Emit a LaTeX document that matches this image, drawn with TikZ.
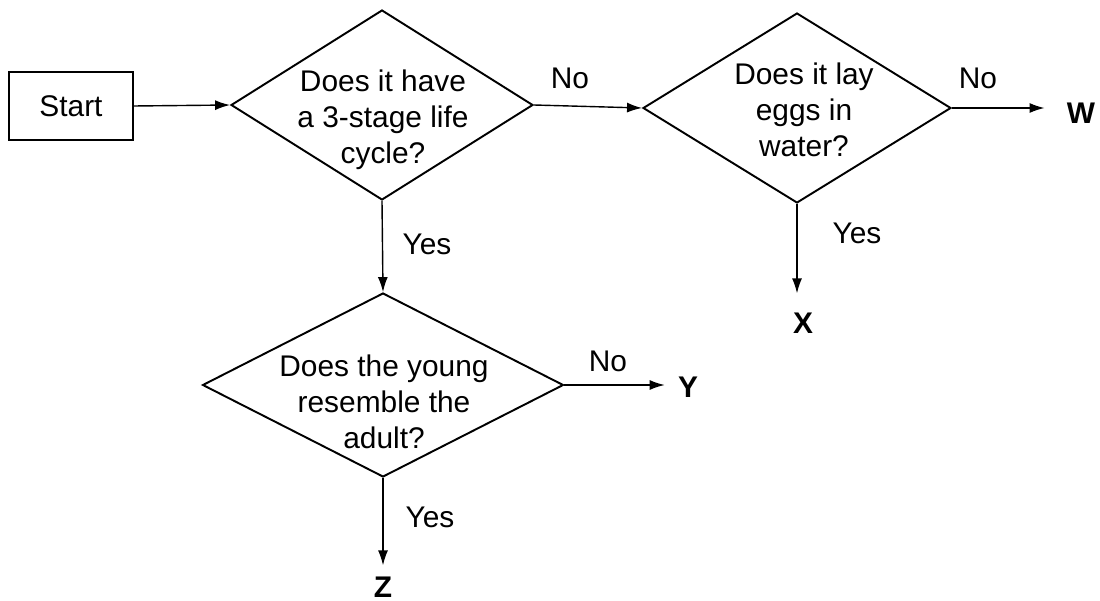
\documentclass[tikz,border=0pt]{standalone}
\usepackage{fontspec}
\setmainfont{Liberation Sans}
\usetikzlibrary{shapes.geometric, arrows.meta, positioning}
\newcommand{\chartfont}{\fontsize{17}{20.5}\selectfont}
\tikzset{
  startbox/.style={
    rectangle, draw=black, line width=1.1pt,
    minimum width=2.48cm, minimum height=1.36cm,
    align=center, inner sep=0pt, font=\chartfont,
  },
  decision/.style={
    diamond, draw=black, line width=1.1pt, inner sep=0pt,
  },
  qtext/.style={
    align=center, inner sep=0pt, font=\chartfont,
  },
  endpoint/.style={
    font=\chartfont\bfseries, inner sep=0pt,
  },
  arrow/.style={
    -{Latex[length=3mm, width=2mm]}, line width=0.8pt, draw=black,
  },
  tlabel/.style={
    inner sep=0pt, font=\chartfont,
  }
}

\begin{document}
\begin{tikzpicture}[x=0.02cm, y=-0.02cm]
  \useasboundingbox (0,0) rectangle (1100,601);

  \node[startbox] (start) at (71,106) {Start};

  % the three questions
  \node[decision, minimum width=6.04cm, minimum height=3.8cm] (q1) at (382,105) {};
  \node[qtext] (q1text) at (383,120) {Does it have\\a 3-stage life\\cycle?};

  \node[decision, minimum width=6.16cm, minimum height=3.8cm] (q2) at (797,108) {};
  \node[qtext] (q2text) at (804,110) {Does it lay\\eggs in\\water?};

  \node[decision, minimum width=7.22cm, minimum height=3.68cm] (q3) at (383,385) {};
  \node[qtext] (q3text) at (384,402) {Does the young\\resemble the\\adult?};

  % outcomes
  \node[endpoint] (outw) at (1081,113) {W};
  \node[endpoint] (outx) at (803,323) {X};
  \node[endpoint] (outy) at (688,387) {Y};
  \node[endpoint] (outz) at (383,587) {Z};

  \draw[arrow] (start.east) -- (q1.west);
  \draw[arrow] (q1.east) -- (q2.west);
  \draw[arrow] (q1.south) -- (q3.north);
  \draw[arrow, shorten >=0.44cm] (q2.east) -- (q2.east -| outw.west);
  \draw[arrow, shorten >=0.38cm] (q2.south) -- (q2.south |- outx.north);
  \draw[arrow, shorten >=0.26cm] (q3.east) -- (q3.east -| outy.west);
  \draw[arrow, shorten >=0.22cm] (q3.south) -- (q3.south |- outz.north);

  \node[tlabel] (no1) at (570,78) {No};
  \node[tlabel] (no2) at (978,78) {No};
  \node[tlabel] (no3) at (608,361) {No};
  \node[tlabel] (yes1) at (427,244) {Yes};
  \node[tlabel] (yes2) at (857,233) {Yes};
  \node[tlabel] (yes3) at (430,517) {Yes};

\end{tikzpicture}
\end{document}
